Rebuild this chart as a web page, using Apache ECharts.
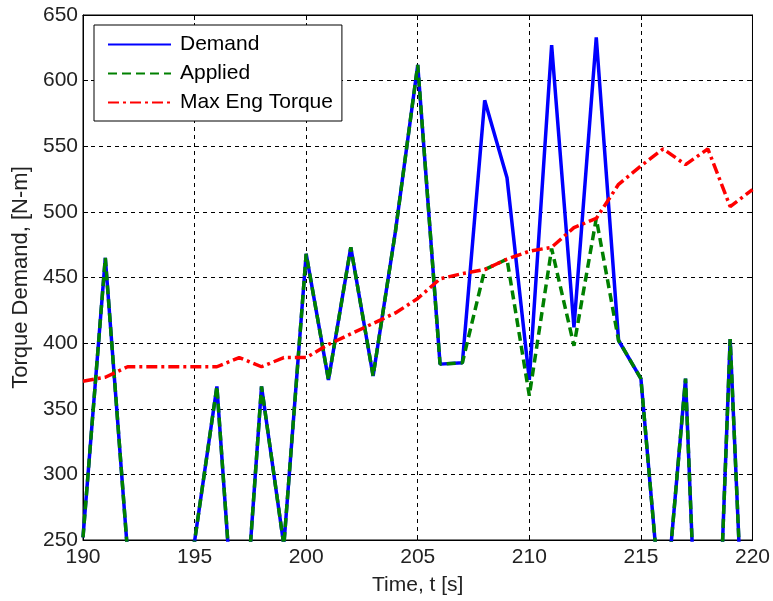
<!DOCTYPE html>
<html>
<head>
<meta charset="utf-8">
<script src="https://cdn.jsdelivr.net/npm/echarts@6/dist/echarts.min.js"></script>
<style>
html,body{margin:0;padding:0;background:#fff;}
#chart{width:773px;height:601px;}
</style>
</head>
<body>
<div id="chart"></div>
<script>
var time = [190,191,192,193,194,195,196,197,198,199,200,201,202,203,204,205,206,207,208,209,210,211,212,213,214,215,216,217,218,219,220];
var demand = [252,465,240,150,200,249,367,125,367,246,468,372,473,375,485,612,384,385,585,526,372,627,412,633,402,373,178,373,-50,403,10];
var applied = [252,465,240,150,200,249,367,125,367,246,468,372,473,375,485,612,384,385,456,464,360,472,398,495,402,373,178,373,-50,403,10];
var maxEng = [371,374,382,382,382,382,382,389,382,389,389,399,407,415,423,434,449,453,456,464,470,473,488,495,521,535,548,536,548,504,517];
var xTicks = [190,195,200,205,210,215,220];
var yTicks = [250,300,350,400,450,500,550,600,650];

function pairs(xs, ys){ return xs.map(function(x,i){ return [x, ys[i]]; }); }

var chart = echarts.init(document.getElementById('chart'));
var font = 'Liberation Sans, Arial, sans-serif';
var gridLine = {show:true, lineStyle:{color:'#000', type:[4,4], width:1}};
chart.setOption({
  backgroundColor:'#fff',
  animation:false,
  grid:{left:83, top:15, right:20, bottom:58, show:true, borderColor:'#000', borderWidth:1, backgroundColor:'#fff'},
  legend:{
    left:94, top:25, orient:'vertical',
    backgroundColor:'#fff', borderColor:'#000', borderWidth:1,
    padding:[9,9,8,13], itemGap:8, itemWidth:63, itemHeight:20,
    itemStyle:{opacity:0},
    textStyle:{fontFamily:font, fontSize:21, color:'#000', padding:[0,0,0,4]},
    data:['Demand','Applied','Max Eng Torque']
  },
  xAxis:[{
    type:'value', min:xTicks[0], max:xTicks[xTicks.length-1], interval:5,
    name:'Time, t [s]', nameLocation:'middle', nameGap:35,
    nameTextStyle:{fontFamily:font, fontSize:21, color:'#222'},
    axisLine:{show:true, lineStyle:{color:'#000', width:1}},
    axisTick:{show:true, inside:true, length:5, lineStyle:{color:'#000'}},
    axisLabel:{fontFamily:font, fontSize:21, color:'#222', margin:7},
    splitLine:gridLine
  },{
    type:'value', position:'top', min:xTicks[0], max:xTicks[xTicks.length-1], interval:5,
    axisLine:{show:true, lineStyle:{color:'#000'}},
    axisTick:{show:true, inside:true, length:5, lineStyle:{color:'#000'}},
    axisLabel:{show:false}, splitLine:{show:false}
  }],
  yAxis:[{
    type:'value', min:yTicks[0], max:yTicks[yTicks.length-1], interval:50,
    name:'Torque Demand, [N-m]', nameLocation:'middle', nameGap:51, nameRotate:90,
    nameTextStyle:{fontFamily:font, fontSize:22, color:'#222'},
    axisLine:{show:true, lineStyle:{color:'#000', width:1}},
    axisTick:{show:true, inside:true, length:5, lineStyle:{color:'#000'}},
    axisLabel:{fontFamily:font, fontSize:21, color:'#222', margin:5},
    splitLine:gridLine
  },{
    type:'value', position:'right', min:yTicks[0], max:yTicks[yTicks.length-1], interval:50,
    axisLine:{show:true, lineStyle:{color:'#000'}},
    axisTick:{show:true, inside:true, length:5, lineStyle:{color:'#000'}},
    axisLabel:{show:false}, splitLine:{show:false}
  }],
  series:[
    {name:'Demand', type:'line', data:pairs(time, demand), showSymbol:false, symbol:'none', clip:true,
     lineStyle:{color:'#0000ff', width:3.5}, itemStyle:{color:'#0000ff'}},
    {name:'Applied', type:'line', data:pairs(time, applied), showSymbol:false, symbol:'none', clip:true,
     lineStyle:{color:'#008000', width:3.5, type:[9,5]}, itemStyle:{color:'#008000'}},
    {name:'Max Eng Torque', type:'line', data:pairs(time, maxEng), showSymbol:false, symbol:'none', clip:true,
     lineStyle:{color:'#ff0000', width:3.5, type:[11,4,3,4]}, itemStyle:{color:'#ff0000'}}
  ]
});
</script>
</body>
</html>
